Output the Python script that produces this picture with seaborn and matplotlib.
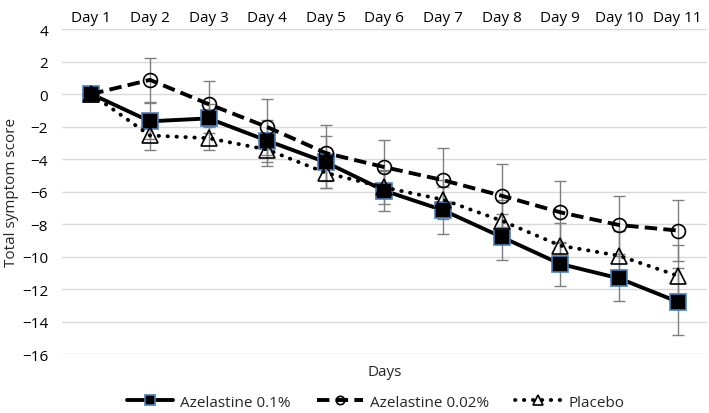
import numpy as np
import pandas as pd
import matplotlib
matplotlib.use("Agg")
import matplotlib.pyplot as plt
import seaborn as sns

# data
days = ["Day 1", "Day 2", "Day 3", "Day 4", "Day 5", "Day 6", "Day 7", "Day 8", "Day 9", "Day 10", "Day 11"]
aze_01 = [0, -1.68, -1.5, -2.87, -4.2, -5.95, -7.15, -8.8, -10.46, -11.34, -12.78]
aze_01_err = [0, 1.1, 0.9, 1.3, 1.6, 1.25, 1.45, 1.42, 1.35, 1.4, 2.05]
aze_002 = [0, 0.87, -0.62, -2.03, -3.63, -4.5, -5.3, -6.26, -7.28, -8.06, -8.4]
aze_002_err = [0, 1.37, 1.4, 1.7, 1.7, 1.7, 2.0, 1.95, 1.9, 1.8, 1.9]
placebo = [0, -2.55, -2.72, -3.42, -4.85, -5.75, -6.5, -7.8, -9.33, -9.95, -11.18]
placebo_err = [0, 0.9, 0.75, 1.0, 0.95, 1.0, 1.2, 1.3, 1.4, 1.5, 1.88]

series = ["Azelastine 0.1%", "Azelastine 0.02%", "Placebo"]

df = pd.DataFrame({
    "day": days * 3,
    "score": aze_01 + aze_002 + placebo,
    "err": aze_01_err + aze_002_err + placebo_err,
    "group": np.repeat(series, len(days)),
})

sns.set_style("white")
plt.rcParams["font.family"] = ["Open Sans", "DejaVu Sans"]

fig = plt.figure(figsize=(7.09, 4.14), dpi=100)
ax = fig.add_axes([0.0874, 0.1425, 0.9096, 0.785])

styles = {
    "Azelastine 0.1%": dict(ls="-", marker="s", ms=11, mfc="black", mec="#4a7ebb"),
    "Azelastine 0.02%": dict(ls=(0, (3.2, 1.6)), marker="o", ms=10, mfc="none", mec="black"),
    "Placebo": dict(ls=(0, (0.1, 2.2)), marker="^", ms=12, mfc="none", mec="black"),
}

for g in series:
    d = df[df["group"] == g]
    ax.errorbar(d["day"], d["score"], yerr=d["err"], fmt="none", ecolor="#7f7f7f",
                elinewidth=1.0, capsize=4, capthick=1.0, zorder=2)

for g in series:
    d = df[df["group"] == g]
    st = styles[g]
    sns.lineplot(data=d, x="day", y="score", ax=ax, color="black", lw=2.8,
                 linestyle=st["ls"], marker=st["marker"], markersize=st["ms"],
                 markerfacecolor=st["mfc"], markeredgecolor=st["mec"],
                 markeredgewidth=1.2, label=g, zorder=3, sort=False,
                 dash_capstyle="round" if g == "Placebo" else "butt")

ax.set_ylim(-16, 4)
ax.set_yticks(range(-16, 5, 2))
ax.set_xlim(-0.5, len(days) - 0.5)
ax.yaxis.grid(True, color="#d9d9d9", lw=1.0)
ax.set_axisbelow(True)
for s in ax.spines.values():
    s.set_visible(False)

ax.xaxis.tick_top()
ax.xaxis.set_label_position("bottom")
ax.tick_params(axis="both", length=0, labelsize=11, colors="black")
ax.tick_params(axis="x", pad=3)
ax.tick_params(axis="y", pad=10)
ax.set_xlabel("Days", fontsize=11, labelpad=7)
ax.set_ylabel("Total symptom score", fontsize=11, labelpad=2)

ax.legend_.remove()
h, l = ax.get_legend_handles_labels()
leg = fig.legend(h, l, loc="center", bbox_to_anchor=(0.53, 0.026), ncol=3, frameon=False,
                 fontsize=11, handlelength=3.0, columnspacing=1.7, handletextpad=0.5,
                 markerscale=0.6)

fig.savefig("out.png", dpi=100)
